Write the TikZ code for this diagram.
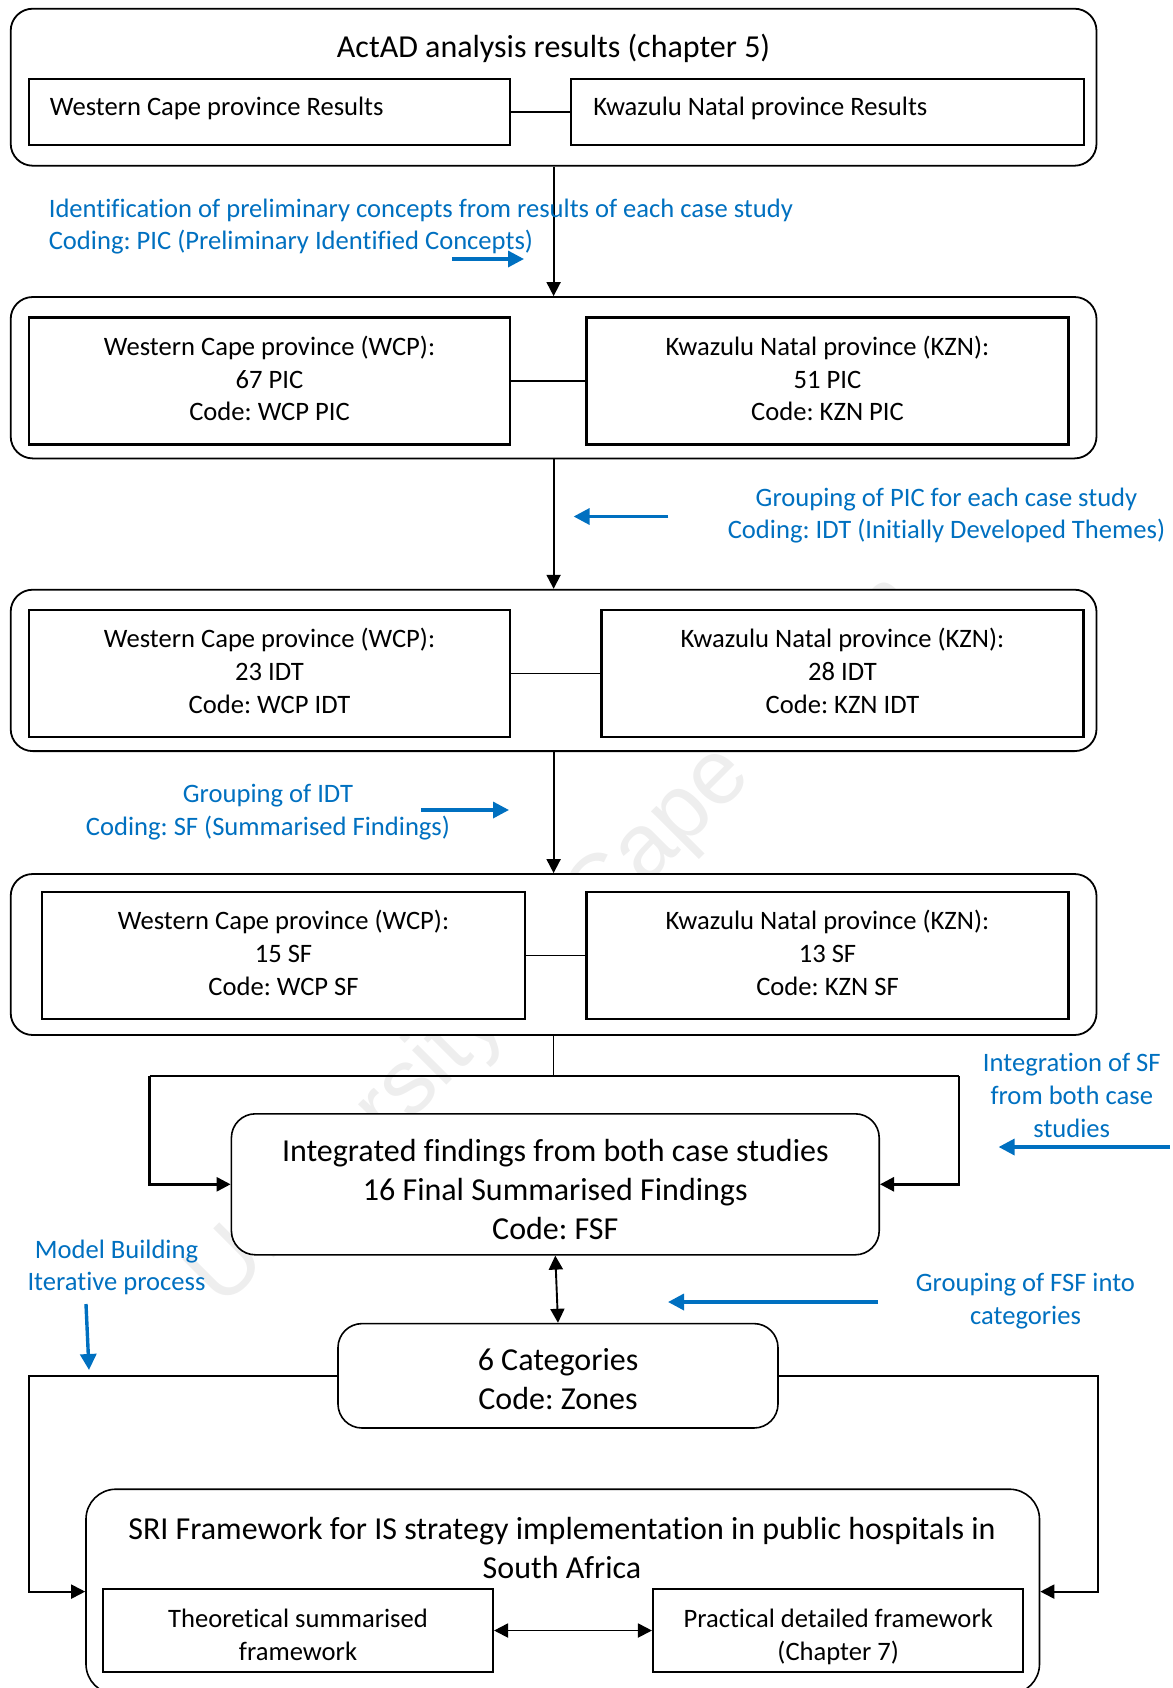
\documentclass[tikz,border=0pt]{standalone}
\usepackage{fontspec}
\setmainfont{Carlito}[Ligatures=NoCommon]
\newfontfamily\wmfont{Liberation Sans}
\usetikzlibrary{arrows.meta}
\definecolor{annot}{HTML}{0070C0}
\newcommand\txtS{\fontsize{13.3}{16.3}\selectfont}
\newcommand\txtL{\fontsize{16}{19.4}\selectfont}
\frenchspacing
\begin{document}
\begin{tikzpicture}[x=0.5pt,y=-0.5pt,
  outerbox/.style={draw, line width=0.9pt, rounded corners=11pt, fill=white, inner sep=0pt},
  innerbox/.style={draw, line width=1.05pt, fill=white, inner sep=0pt, align=center, font=\txtS},
  tribox/.style={innerbox, text depth=2.7pt},
  roundbox/.style={draw, line width=0.8pt, rounded corners=12pt, fill=white, inner sep=0pt},
  label/.style={inner sep=0pt, align=center},
  link/.style={line width=0.85pt},
  flow/.style={line width=0.95pt, -{Triangle[width=7pt,length=7pt]}},
  both/.style={line width=0.95pt, {Triangle[width=7pt,length=7pt]}-{Triangle[width=7pt,length=7pt]}},
  bracket/.style={line width=1.3pt},
  note/.style={text=annot, font=\txtS, align=center, inner sep=0pt},
  noteflow/.style={draw=annot, line width=1.7pt, -{Triangle[width=8pt,length=8pt]}},
]
\useasboundingbox (0,0) rectangle (1173,1688);
\clip (0,0) rectangle (1173,1688);

% faint background lettering
\node[anchor=base west, rotate=45, text=gray!13, font=\wmfont\fontsize{46}{46}\selectfont, inner sep=0pt]
  (wm) at (222,1310) {University of Cape Town};

% stage 1
\node[outerbox, minimum width=542.9pt, minimum height=78.5pt] (actad) at (553.6,87.2) {};
\node[label, font=\txtL] (actadT) at (553.6,48.2) {ActAD analysis results (chapter 5)};
\node[innerbox, minimum width=240.5pt, minimum height=33.4pt] (wcr) at (269.5,112) {};
\node[innerbox, minimum width=256.3pt, minimum height=33.4pt] (kznr) at (827.3,112) {};
\node[label, anchor=west, font=\txtS] (wcrT) at (49.5,108.7) {Western Cape province Results};
\node[label, anchor=west, font=\txtS] (kznrT) at (593,108.7) {Kwazulu Natal province Results};
\draw[link] (wcr.east) -- (kznr.west);

% stage 2
\node[outerbox, minimum width=542.9pt, minimum height=80.7pt] (pic) at (553.6,377.7) {};
\node[tribox, minimum width=240.5pt, minimum height=63.5pt] (wcpic) at (269.5,381)
  {Western Cape province (WCP):\\67 PIC\\Code: WCP PIC};
\node[tribox, minimum width=241pt, minimum height=63.5pt] (kznpic) at (827.5,381)
  {Kwazulu Natal province (KZN):\\51 PIC\\Code: KZN PIC};
\draw[link] (wcpic.east) -- (kznpic.west);

% stage 3
\node[outerbox, minimum width=542.9pt, minimum height=80.7pt] (idt) at (553.6,670.4) {};
\node[tribox, minimum width=240.5pt, minimum height=63.5pt] (wcidt) at (269.5,673.5)
  {Western Cape province (WCP):\\23 IDT\\Code: WCP IDT};
\node[tribox, minimum width=241pt, minimum height=63.5pt] (kznidt) at (842.5,673.5)
  {Kwazulu Natal province (KZN):\\28 IDT\\Code: KZN IDT};
\draw[link] (wcidt.east) -- (kznidt.west);

% stage 4
\node[outerbox, minimum width=542.9pt, minimum height=80.5pt] (sf) at (553.6,954.5) {};
\node[tribox, minimum width=241.5pt, minimum height=63.5pt] (wcsf) at (283.5,955.5)
  {Western Cape province (WCP):\\15 SF\\Code: WCP SF};
\node[tribox, minimum width=241pt, minimum height=63.5pt] (kznsf) at (827.5,955.5)
  {Kwazulu Natal province (KZN):\\13 SF\\Code: KZN SF};
\draw[link] (wcsf.east) -- (kznsf.west);

\draw[flow] (actad.south) -- (pic.north);
\draw[flow] (pic.south) -- (idt.north);
\draw[flow] (idt.south) -- (sf.north);

% integration
\node[roundbox, minimum width=323.9pt, minimum height=70.5pt] (fsf) at (555.3,1184.3) {};
\node[label, font=\txtL] (fsfT) at (555.3,1189.7)
  {Integrated findings from both case studies\\16 Final Summarised Findings\\Code: FSF};
\coordinate (split) at (553.6,1076);
\coordinate (bl) at (149.6,1076);
\coordinate (br) at (958.8,1076);
\draw[link] (sf.south) -- (split);
\draw[bracket] (bl) -- (br);
\draw[bracket, -{Triangle[width=7pt,length=7pt]}] (bl) |- (fsf.west);
\draw[bracket, -{Triangle[width=7pt,length=7pt]}] (br) |- (fsf.east);

% categories
\node[roundbox, minimum width=220pt, minimum height=52.2pt] (cat) at (558,1375.8) {};
\node[label, font=\txtL] (catT) at (558,1379) {6 Categories\\Code: Zones};
\draw[both] (fsf.south) -- (cat.north);

% framework
\node[roundbox, rounded corners=15pt, minimum width=476.75pt, minimum height=102.4pt] (sri) at (562.75,1591.6) {};
\node[label, font=\txtL] (sriT) at (562,1548)
  {SRI Framework for IS strategy implementation in public hospitals in\\South Africa};
\node[innerbox, minimum width=195pt, minimum height=41.5pt] (theo) at (298,1630.5) {};
\node[innerbox, minimum width=185.2pt, minimum height=41.5pt] (prac) at (838.2,1630.5) {};
\node[label, font=\txtS, text depth=0pt] (theoT) at (298,1635) {Theoretical summarised\\framework};
\node[label, font=\txtS, text depth=0pt] (pracT) at (838.2,1635) {Practical detailed framework\\(Chapter 7)};
\draw[both] (theo.east) -- (prac.west);

\coordinate (lc) at (29,1375.8);
\coordinate (rc) at (1097.6,1375.8);
\draw[flow] (cat.west) -- (lc) |- (sri.west);
\draw[flow] (cat.east) -- (rc) |- (sri.east);

% annotations
\node[note, anchor=west, align=left] (n1) at (48.4,226.7)
  {Identification of preliminary concepts from results of each case study\\Coding: PIC (Preliminary Identified Concepts)};
\node[note] (n2) at (946.5,515.4)
  {Grouping of PIC for each case study\\Coding: IDT (Initially Developed Themes)};
\node[note] (n3) at (268,812)
  {Grouping of IDT\\Coding: SF (Summarised Findings)};
\node[note] (n4) at (1071.8,1095.5)
  {Integration of SF\\from both case\\studies};
\node[note] (n5) at (1025.5,1301)
  {Grouping of FSF into\\categories};
\node[note] (n6) at (116.5,1267.5)
  {Model Building\\Iterative process};

\coordinate (a1s) at (452,259);    \coordinate (a1e) at (524,259);
\coordinate (a2s) at (668.3,516.5); \coordinate (a2e) at (573.6,516.5);
\coordinate (a3s) at (420.8,810);  \coordinate (a3e) at (509,810);
\coordinate (a4s) at (1169.7,1147); \coordinate (a4e) at (998.6,1147);
\coordinate (a5s) at (878,1302);   \coordinate (a5e) at (668,1302);
\coordinate (a6s) at (86,1304);    \coordinate (a6e) at (89,1370);
\draw[noteflow] (a1s) -- (a1e);
\draw[noteflow] (a2s) -- (a2e);
\draw[noteflow] (a3s) -- (a3e);
\draw[noteflow] (a4s) -- (a4e);
\draw[noteflow] (a5s) -- (a5e);
\draw[noteflow] (a6s) -- (a6e);
\end{tikzpicture}
\end{document}
